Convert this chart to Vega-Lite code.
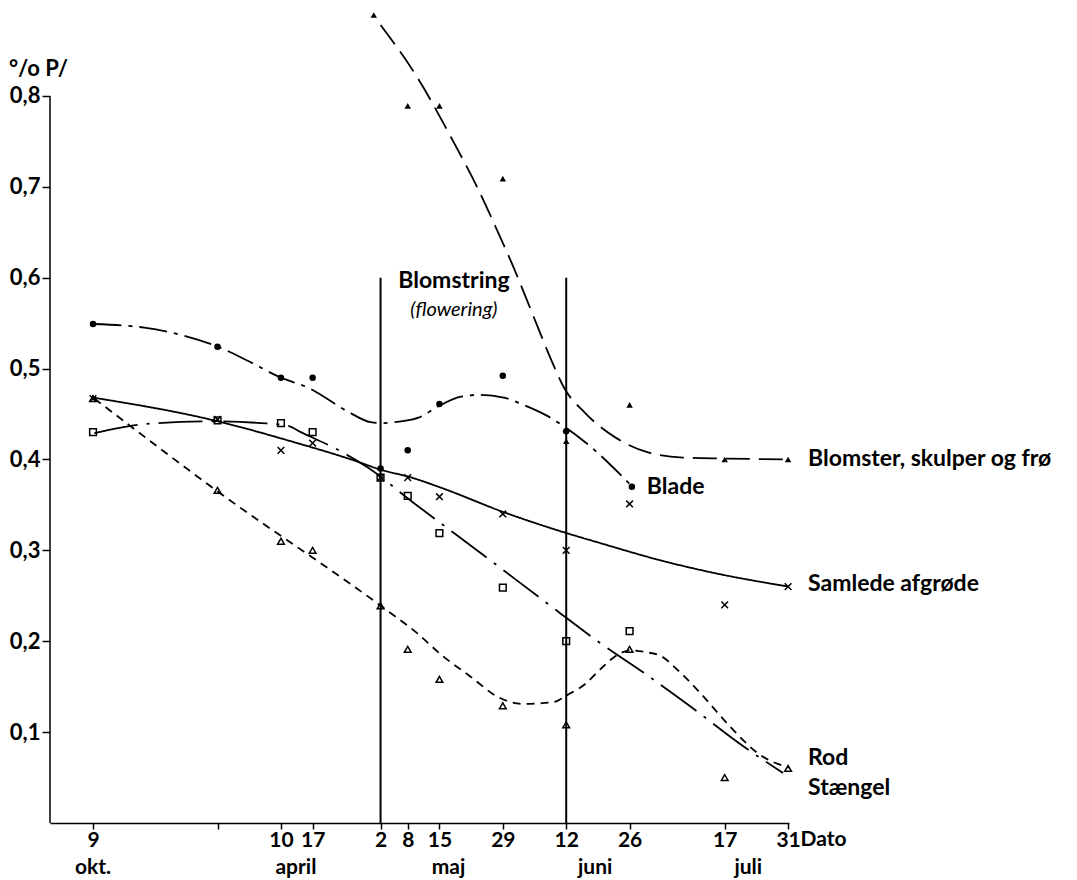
{
  "$schema": "https://vega.github.io/schema/vega-lite/v6.json",
  "width": 739,
  "height": 818,
  "autosize": {"type": "none"},
  "padding": {"left": 50, "top": 5, "right": 288, "bottom": 57},
  "background": "white",
  "config": {"view": {"stroke": null}, "font": "Lato"},
  "datasets": {
    "punkter": [
      {"serie": "Blomster, skulper og frø", "dag": 120.5, "verdi": 0.889},
      {"serie": "Blomster, skulper og frø", "dag": 128, "verdi": 0.789},
      {"serie": "Blomster, skulper og frø", "dag": 135, "verdi": 0.789},
      {"serie": "Blomster, skulper og frø", "dag": 149, "verdi": 0.709},
      {"serie": "Blomster, skulper og frø", "dag": 163, "verdi": 0.42},
      {"serie": "Blomster, skulper og frø", "dag": 177, "verdi": 0.46},
      {"serie": "Blomster, skulper og frø", "dag": 198, "verdi": 0.40},
      {"serie": "Blomster, skulper og frø", "dag": 212, "verdi": 0.40},
      {"serie": "Blade", "dag": 58.5, "verdi": 0.549},
      {"serie": "Blade", "dag": 86, "verdi": 0.524},
      {"serie": "Blade", "dag": 100, "verdi": 0.49},
      {"serie": "Blade", "dag": 107, "verdi": 0.49},
      {"serie": "Blade", "dag": 122, "verdi": 0.39},
      {"serie": "Blade", "dag": 128, "verdi": 0.41},
      {"serie": "Blade", "dag": 135, "verdi": 0.461},
      {"serie": "Blade", "dag": 149, "verdi": 0.492},
      {"serie": "Blade", "dag": 163, "verdi": 0.431},
      {"serie": "Blade", "dag": 177.5, "verdi": 0.37},
      {"serie": "Samlede afgrøde", "dag": 58.5, "verdi": 0.467},
      {"serie": "Samlede afgrøde", "dag": 86, "verdi": 0.444},
      {"serie": "Samlede afgrøde", "dag": 100, "verdi": 0.41},
      {"serie": "Samlede afgrøde", "dag": 107, "verdi": 0.418},
      {"serie": "Samlede afgrøde", "dag": 122, "verdi": 0.38},
      {"serie": "Samlede afgrøde", "dag": 128, "verdi": 0.38},
      {"serie": "Samlede afgrøde", "dag": 135, "verdi": 0.359},
      {"serie": "Samlede afgrøde", "dag": 149, "verdi": 0.34},
      {"serie": "Samlede afgrøde", "dag": 163, "verdi": 0.30},
      {"serie": "Samlede afgrøde", "dag": 177, "verdi": 0.351},
      {"serie": "Samlede afgrøde", "dag": 198, "verdi": 0.24},
      {"serie": "Samlede afgrøde", "dag": 212, "verdi": 0.26},
      {"serie": "Stængel", "dag": 58.5, "verdi": 0.43},
      {"serie": "Stængel", "dag": 86, "verdi": 0.443},
      {"serie": "Stængel", "dag": 100, "verdi": 0.44},
      {"serie": "Stængel", "dag": 107, "verdi": 0.43},
      {"serie": "Stængel", "dag": 122, "verdi": 0.38},
      {"serie": "Stængel", "dag": 128, "verdi": 0.36},
      {"serie": "Stængel", "dag": 135, "verdi": 0.319},
      {"serie": "Stængel", "dag": 149, "verdi": 0.259},
      {"serie": "Stængel", "dag": 163, "verdi": 0.20},
      {"serie": "Stængel", "dag": 177, "verdi": 0.211},
      {"serie": "Rod", "dag": 58.5, "verdi": 0.467},
      {"serie": "Rod", "dag": 86, "verdi": 0.366},
      {"serie": "Rod", "dag": 100, "verdi": 0.31},
      {"serie": "Rod", "dag": 107, "verdi": 0.30},
      {"serie": "Rod", "dag": 122, "verdi": 0.239},
      {"serie": "Rod", "dag": 128, "verdi": 0.191},
      {"serie": "Rod", "dag": 135, "verdi": 0.158},
      {"serie": "Rod", "dag": 149, "verdi": 0.129},
      {"serie": "Rod", "dag": 163, "verdi": 0.108},
      {"serie": "Rod", "dag": 177, "verdi": 0.191},
      {"serie": "Rod", "dag": 198, "verdi": 0.05},
      {"serie": "Rod", "dag": 212, "verdi": 0.06}
    ],
    "kurver": [
      {"serie": "Blomster, skulper og frø", "dag": 122.0, "verdi": 0.878},
      {"serie": "Blomster, skulper og frø", "dag": 130.4, "verdi": 0.818},
      {"serie": "Blomster, skulper og frø", "dag": 137.5, "verdi": 0.755},
      {"serie": "Blomster, skulper og frø", "dag": 143.4, "verdi": 0.699},
      {"serie": "Blomster, skulper og frø", "dag": 147.4, "verdi": 0.656},
      {"serie": "Blomster, skulper og frø", "dag": 151.4, "verdi": 0.611},
      {"serie": "Blomster, skulper og frø", "dag": 155.8, "verdi": 0.557},
      {"serie": "Blomster, skulper og frø", "dag": 160.0, "verdi": 0.506},
      {"serie": "Blomster, skulper og frø", "dag": 162.4, "verdi": 0.480},
      {"serie": "Blomster, skulper og frø", "dag": 167.2, "verdi": 0.451},
      {"serie": "Blomster, skulper og frø", "dag": 173.9, "verdi": 0.424},
      {"serie": "Blomster, skulper og frø", "dag": 180.9, "verdi": 0.408},
      {"serie": "Blomster, skulper og frø", "dag": 188.8, "verdi": 0.402},
      {"serie": "Blomster, skulper og frø", "dag": 197.9, "verdi": 0.401},
      {"serie": "Blomster, skulper og frø", "dag": 212.2, "verdi": 0.400},
      {"serie": "Blade", "dag": 58.6, "verdi": 0.549},
      {"serie": "Blade", "dag": 69.8, "verdi": 0.545},
      {"serie": "Blade", "dag": 78.0, "verdi": 0.537},
      {"serie": "Blade", "dag": 86.1, "verdi": 0.524},
      {"serie": "Blade", "dag": 92.9, "verdi": 0.508},
      {"serie": "Blade", "dag": 100.0, "verdi": 0.490},
      {"serie": "Blade", "dag": 106.0, "verdi": 0.479},
      {"serie": "Blade", "dag": 115.0, "verdi": 0.452},
      {"serie": "Blade", "dag": 119.8, "verdi": 0.441},
      {"serie": "Blade", "dag": 122.5, "verdi": 0.440},
      {"serie": "Blade", "dag": 126.5, "verdi": 0.442},
      {"serie": "Blade", "dag": 130.4, "verdi": 0.446},
      {"serie": "Blade", "dag": 134.6, "verdi": 0.458},
      {"serie": "Blade", "dag": 139.7, "verdi": 0.469},
      {"serie": "Blade", "dag": 143.4, "verdi": 0.471},
      {"serie": "Blade", "dag": 149.2, "verdi": 0.468},
      {"serie": "Blade", "dag": 153.6, "verdi": 0.460},
      {"serie": "Blade", "dag": 158.4, "verdi": 0.449},
      {"serie": "Blade", "dag": 162.6, "verdi": 0.436},
      {"serie": "Blade", "dag": 167.2, "verdi": 0.419},
      {"serie": "Blade", "dag": 177.6, "verdi": 0.370},
      {"serie": "Samlede afgrøde", "dag": 58.6, "verdi": 0.468},
      {"serie": "Samlede afgrøde", "dag": 85.2, "verdi": 0.443},
      {"serie": "Samlede afgrøde", "dag": 102.9, "verdi": 0.419},
      {"serie": "Samlede afgrøde", "dag": 116.1, "verdi": 0.399},
      {"serie": "Samlede afgrøde", "dag": 122.5, "verdi": 0.388},
      {"serie": "Samlede afgrøde", "dag": 128.2, "verdi": 0.381},
      {"serie": "Samlede afgrøde", "dag": 135.3, "verdi": 0.369},
      {"serie": "Samlede afgrøde", "dag": 149.2, "verdi": 0.342},
      {"serie": "Samlede afgrøde", "dag": 162.4, "verdi": 0.320},
      {"serie": "Samlede afgrøde", "dag": 170.5, "verdi": 0.308},
      {"serie": "Samlede afgrøde", "dag": 183.8, "verdi": 0.289},
      {"serie": "Samlede afgrøde", "dag": 194.8, "verdi": 0.276},
      {"serie": "Samlede afgrøde", "dag": 212.2, "verdi": 0.260},
      {"serie": "Stængel", "dag": 58.8, "verdi": 0.429},
      {"serie": "Stængel", "dag": 70.2, "verdi": 0.439},
      {"serie": "Stængel", "dag": 84.6, "verdi": 0.442},
      {"serie": "Stængel", "dag": 95.6, "verdi": 0.440},
      {"serie": "Stængel", "dag": 101.5, "verdi": 0.437},
      {"serie": "Stængel", "dag": 104.4, "verdi": 0.430},
      {"serie": "Stængel", "dag": 112.8, "verdi": 0.410},
      {"serie": "Stængel", "dag": 119.2, "verdi": 0.391},
      {"serie": "Stængel", "dag": 129.1, "verdi": 0.353},
      {"serie": "Stængel", "dag": 145.2, "verdi": 0.293},
      {"serie": "Stængel", "dag": 159.5, "verdi": 0.239},
      {"serie": "Stængel", "dag": 170.5, "verdi": 0.198},
      {"serie": "Stængel", "dag": 180.5, "verdi": 0.164},
      {"serie": "Stængel", "dag": 189.7, "verdi": 0.131},
      {"serie": "Stængel", "dag": 202.5, "verdi": 0.083},
      {"serie": "Stængel", "dag": 210.9, "verdi": 0.055},
      {"serie": "Rod", "dag": 58.8, "verdi": 0.467},
      {"serie": "Rod", "dag": 85.7, "verdi": 0.366},
      {"serie": "Rod", "dag": 122.3, "verdi": 0.238},
      {"serie": "Rod", "dag": 129.8, "verdi": 0.210},
      {"serie": "Rod", "dag": 135.9, "verdi": 0.183},
      {"serie": "Rod", "dag": 141.9, "verdi": 0.161},
      {"serie": "Rod", "dag": 147.8, "verdi": 0.139},
      {"serie": "Rod", "dag": 153.6, "verdi": 0.131},
      {"serie": "Rod", "dag": 160.2, "verdi": 0.133},
      {"serie": "Rod", "dag": 163.3, "verdi": 0.141},
      {"serie": "Rod", "dag": 167.2, "verdi": 0.153},
      {"serie": "Rod", "dag": 170.5, "verdi": 0.169},
      {"serie": "Rod", "dag": 174.3, "verdi": 0.185},
      {"serie": "Rod", "dag": 177.2, "verdi": 0.190},
      {"serie": "Rod", "dag": 180.5, "verdi": 0.188},
      {"serie": "Rod", "dag": 183.8, "verdi": 0.184},
      {"serie": "Rod", "dag": 187.7, "verdi": 0.168},
      {"serie": "Rod", "dag": 192.6, "verdi": 0.143},
      {"serie": "Rod", "dag": 199.2, "verdi": 0.106},
      {"serie": "Rod", "dag": 205.8, "verdi": 0.075},
      {"serie": "Rod", "dag": 212.2, "verdi": 0.061}
    ],
    "etiketter": [
      {"tekst": "Blomster, skulper og frø", "dag": 216.4, "verdi": 0.401},
      {"tekst": "Blade", "dag": 180.8, "verdi": 0.370},
      {"tekst": "Samlede afgrøde", "dag": 216.4, "verdi": 0.263},
      {"tekst": "Rod", "dag": 216.4, "verdi": 0.071},
      {"tekst": "Stængel", "dag": 216.4, "verdi": 0.039}
    ],
    "maaneder": [
      {"tekst": "okt.", "dag": 58.5},
      {"tekst": "april", "dag": 103.3},
      {"tekst": "maj", "dag": 137},
      {"tekst": "juni", "dag": 169.4},
      {"tekst": "juli", "dag": 203.2}
    ],
    "perioder": [{"dag": 122}, {"dag": 163}]
  },
  "layer": [
    {
      "data": {"name": "kurver"},
      "mark": {"type": "line", "color": "black", "strokeWidth": 1.8, "interpolate": "monotone"},
      "encoding": {
        "x": {
          "field": "dag",
          "type": "quantitative",
          "scale": {"domain": [49, 212.2], "nice": false, "zero": false},
          "axis": {
            "values": [58.5, 86, 100, 107, 122, 128, 135, 149, 163, 177, 198, 212],
            "labelExpr": "datum.value == 58.5 ? '9' : datum.value == 86 ? '' : datum.value < 121 ? toString(datum.value - 90) : datum.value < 152 ? toString(datum.value - 120) : datum.value < 182 ? toString(datum.value - 151) : toString(datum.value - 181)",
            "grid": false,
            "domain": true,
            "domainColor": "black",
            "domainWidth": 1.5,
            "ticks": true,
            "tickColor": "black",
            "tickWidth": 1.5,
            "tickSize": 6,
            "labelPadding": 0,
            "labelFont": "Lato",
            "labelFontSize": 21,
            "labelFontWeight": "bold",
            "labelColor": "black",
            "labelFlush": false,
            "labelOverlap": false,
            "title": "Dato",
            "titleFont": "Lato",
            "titleFontSize": 21,
            "titleFontWeight": "bold",
            "titleColor": "black",
            "titleAlign": "left",
            "titleBaseline": "middle",
            "titleX": 750,
            "titleY": 16
          }
        },
        "y": {
          "field": "verdi",
          "type": "quantitative",
          "scale": {"domain": [0, 0.9], "nice": false, "zero": true},
          "axis": {
            "values": [0.1, 0.2, 0.3, 0.4, 0.5, 0.6, 0.7, 0.8],
            "labelExpr": "replace(format(datum.value, '.1f'), '.', ',')",
            "grid": false,
            "domain": false,
            "ticks": true,
            "tickColor": "black",
            "tickWidth": 1.5,
            "tickSize": 8,
            "labelPadding": 2,
            "labelFont": "Lato",
            "labelFontSize": 22,
            "labelFontWeight": "bold",
            "labelColor": "black",
            "title": "°/o P/",
            "titleFont": "Lato",
            "titleFontSize": 22,
            "titleFontWeight": "bold",
            "titleColor": "black",
            "titleAngle": 0,
            "titleAlign": "center",
            "titleBaseline": "middle",
            "titleX": -12,
            "titleY": 63
          }
        },
        "detail": {"field": "serie"},
        "strokeDash": {
          "field": "serie",
          "type": "nominal",
          "scale": {
            "domain": ["Blomster, skulper og frø", "Blade", "Samlede afgrøde", "Stængel", "Rod"],
            "range": [[24, 9], [28, 7, 4, 7], [1, 0], [44, 9, 3, 9], [8, 6]]
          },
          "legend": null
        }
      }
    },
    {
      "data": {"values": [{}]},
      "mark": {"type": "rule", "color": "black", "strokeWidth": 1.5},
      "encoding": {
        "x": {"datum": 49, "type": "quantitative"},
        "y": {"datum": 0, "type": "quantitative"},
        "y2": {"datum": 0.8}
      }
    },
    {
      "data": {"name": "perioder"},
      "mark": {"type": "rule", "color": "black", "strokeWidth": 2},
      "encoding": {
        "x": {"field": "dag", "type": "quantitative"},
        "y": {"datum": 0, "type": "quantitative"},
        "y2": {"datum": 0.6}
      }
    },
    {
      "data": {"name": "punkter"},
      "transform": [{"filter": "datum.serie == 'Blomster, skulper og frø' || datum.serie == 'Blade'"}],
      "mark": {"type": "point", "filled": true, "color": "black", "opacity": 1, "size": 42},
      "encoding": {
        "x": {"field": "dag", "type": "quantitative"},
        "y": {"field": "verdi", "type": "quantitative"},
        "shape": {
          "field": "serie",
          "type": "nominal",
          "scale": {
            "domain": ["Blomster, skulper og frø", "Blade", "Samlede afgrøde", "Stængel", "Rod"],
            "range": ["triangle-up", "circle", "M-1,-1L1,1M1,-1L-1,1", "square", "triangle-up"]
          },
          "legend": null
        }
      }
    },
    {
      "data": {"name": "punkter"},
      "transform": [{"filter": "datum.serie != 'Blomster, skulper og frø' && datum.serie != 'Blade'"}],
      "mark": {"type": "point", "filled": false, "color": "black", "opacity": 1, "strokeWidth": 1.5, "size": 45},
      "encoding": {
        "x": {"field": "dag", "type": "quantitative"},
        "y": {"field": "verdi", "type": "quantitative"},
        "shape": {
          "field": "serie",
          "type": "nominal",
          "scale": {
            "domain": ["Blomster, skulper og frø", "Blade", "Samlede afgrøde", "Stængel", "Rod"],
            "range": ["triangle-up", "circle", "M-1,-1L1,1M1,-1L-1,1", "square", "triangle-up"]
          },
          "legend": null
        }
      }
    },
    {
      "data": {"name": "etiketter"},
      "mark": {"type": "text", "align": "left", "baseline": "middle", "font": "Lato", "fontSize": 23, "fontWeight": "bold", "color": "black"},
      "encoding": {
        "x": {"field": "dag", "type": "quantitative"},
        "y": {"field": "verdi", "type": "quantitative"},
        "text": {"field": "tekst"}
      }
    },
    {
      "data": {"name": "maaneder"},
      "mark": {"type": "text", "align": "center", "baseline": "middle", "font": "Lato", "fontSize": 21, "fontWeight": "bold", "color": "black"},
      "encoding": {
        "x": {"field": "dag", "type": "quantitative"},
        "y": {"datum": -0.049, "type": "quantitative"},
        "text": {"field": "tekst"}
      }
    },
    {
      "data": {"values": [{"tekst": "Blomstring", "dag": 138.2, "verdi": 0.596}]},
      "mark": {"type": "text", "align": "center", "baseline": "middle", "font": "Lato", "fontSize": 23, "fontWeight": "bold", "color": "black"},
      "encoding": {
        "x": {"field": "dag", "type": "quantitative"},
        "y": {"field": "verdi", "type": "quantitative"},
        "text": {"field": "tekst"}
      }
    },
    {
      "data": {"values": [{"tekst": "(flowering)", "dag": 138.2, "verdi": 0.564}]},
      "mark": {"type": "text", "align": "center", "baseline": "middle", "font": "Lato", "fontSize": 20, "fontStyle": "italic", "color": "black"},
      "encoding": {
        "x": {"field": "dag", "type": "quantitative"},
        "y": {"field": "verdi", "type": "quantitative"},
        "text": {"field": "tekst"}
      }
    }
  ]
}
